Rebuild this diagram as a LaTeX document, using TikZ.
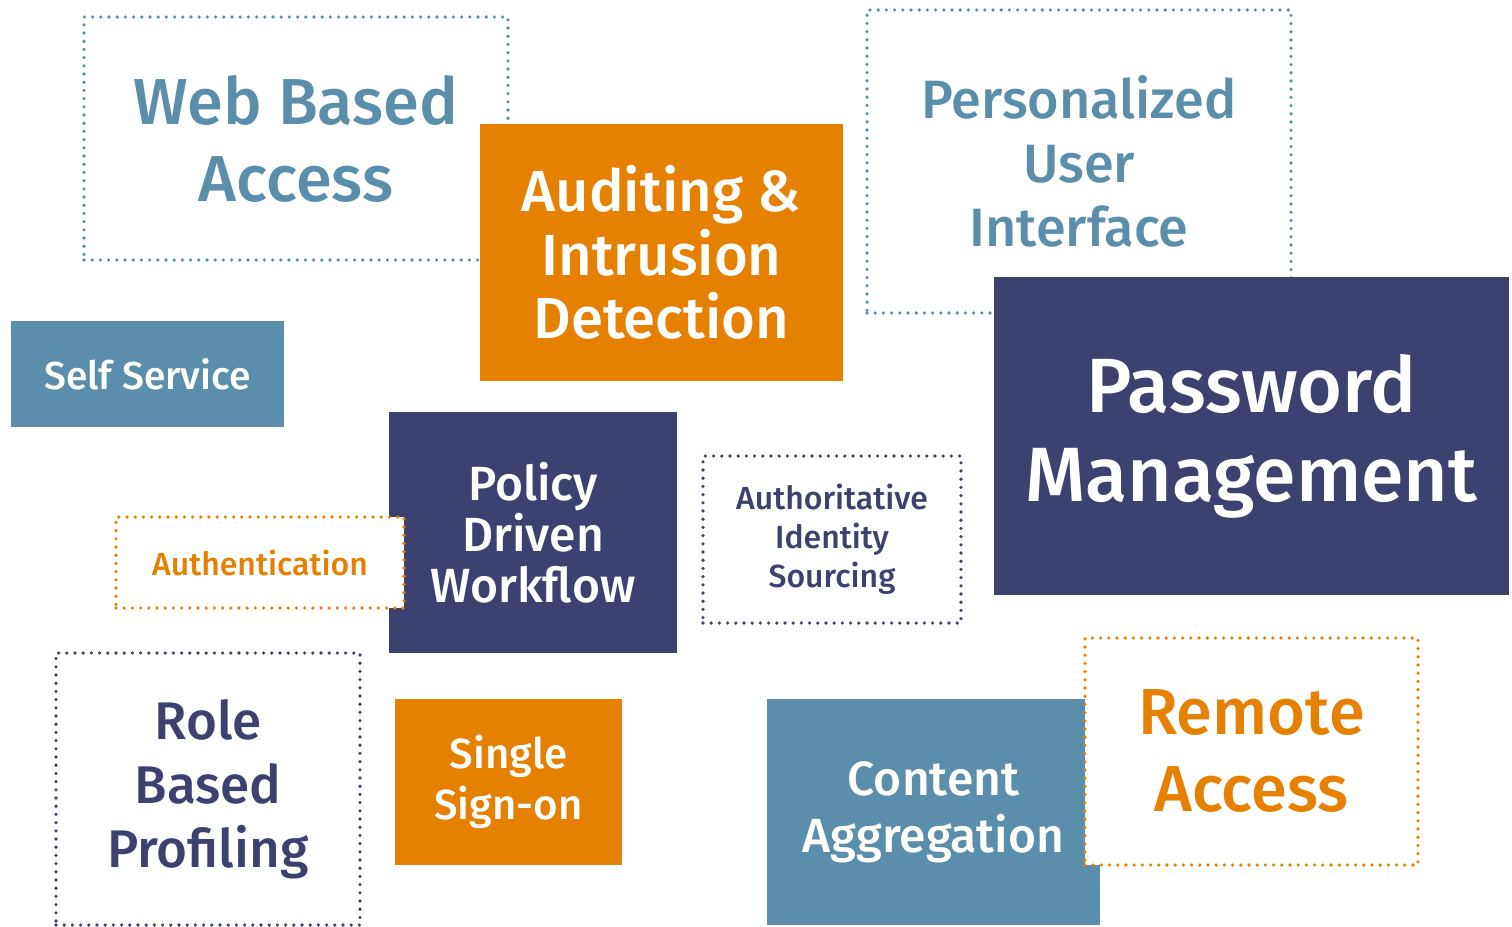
\documentclass[tikz,border=0pt]{standalone}
\usepackage{fontspec}
\setmainfont{Fira Sans}[UprightFont=* Medium]
\usepackage{xcolor}
\definecolor{steel}{HTML}{5A8EAB}
\definecolor{amber}{HTML}{E68000}
\definecolor{navy}{HTML}{3C4170}
\tikzset{
    solidbox/.style={fill=#1,text=white,inner sep=0pt,align=center},
    dotbox/.style={draw=#1,fill=white,text=#1,line width=1.8pt,line cap=round,
                   dash pattern=on 0pt off 4.1pt,inner sep=0pt,align=center}
}

\begin{document}
\begin{tikzpicture}[x=0.5pt,y=-0.5pt]
  \useasboundingbox (0,0) rectangle (1512,927);
  % back layer
  \node[dotbox=steel,minimum width=212pt,minimum height=121.5pt,
        font={\fontsize{32.5}{38.5}\selectfont}] (web) at (296,138.5) {Web Based\\Access};
  \node[dotbox=steel,minimum width=212pt,minimum height=151.5pt,
        font={\fontsize{27}{32}\selectfont}] (ui) at (1079,161.5) {Personalized\\User\\Interface};
  \node[solidbox=navy,minimum width=144pt,minimum height=120.5pt,
        font={\fontsize{24}{25.5}\selectfont}] (policy) at (533,532.5) {Policy\\Driven\\Workflow};
  \node[solidbox=steel,minimum width=166.5pt,minimum height=113pt,
        font={\fontsize{24}{28.5}\selectfont}] (content) at (933.5,812) {Content\\Aggregation};
  % front layer
  \node[solidbox=amber,minimum width=181.5pt,minimum height=128.5pt,
        font={\fontsize{29}{31.75}\selectfont}] (audit) at (661.5,252.5) {Auditing \&\\Intrusion\\Detection};
  \node[solidbox=navy,minimum width=257.5pt,minimum height=159pt,
        font={\fontsize{38.5}{44.5}\selectfont}] (pwd) at (1251.5,436) {Password\\Management};
  \node[solidbox=steel,minimum width=136.5pt,minimum height=53pt,
        font={\fontsize{19.5}{23}\selectfont}] (self) at (147.5,374) {Self Service};
  \node[dotbox=amber,minimum width=144pt,minimum height=45.5pt,
        font={\fontsize{16}{19}\selectfont}] (authn) at (260,562.5) {Authentication};
  \node[dotbox=navy,minimum width=129pt,minimum height=83.5pt,
        font={\fontsize{16}{19.5}\selectfont}] (source) at (832,539.5) {Authoritative\\Identity\\Sourcing};
  \node[dotbox=navy,minimum width=152pt,minimum height=136pt,
        font={\fontsize{26.5}{32}\selectfont}] (role) at (208,789) {Role\\Based\\Profiling};
  \node[solidbox=amber,minimum width=113.5pt,minimum height=83pt,
        font={\fontsize{21}{25.5}\selectfont}] (sso) at (508.5,782) {Single\\Sign-on};
  \node[dotbox=amber,minimum width=166.5pt,minimum height=113.5pt,
        font={\fontsize{32.5}{38.5}\selectfont}] (remote) at (1251.5,751.5) {Remote\\Access};
\end{tikzpicture}
\end{document}
